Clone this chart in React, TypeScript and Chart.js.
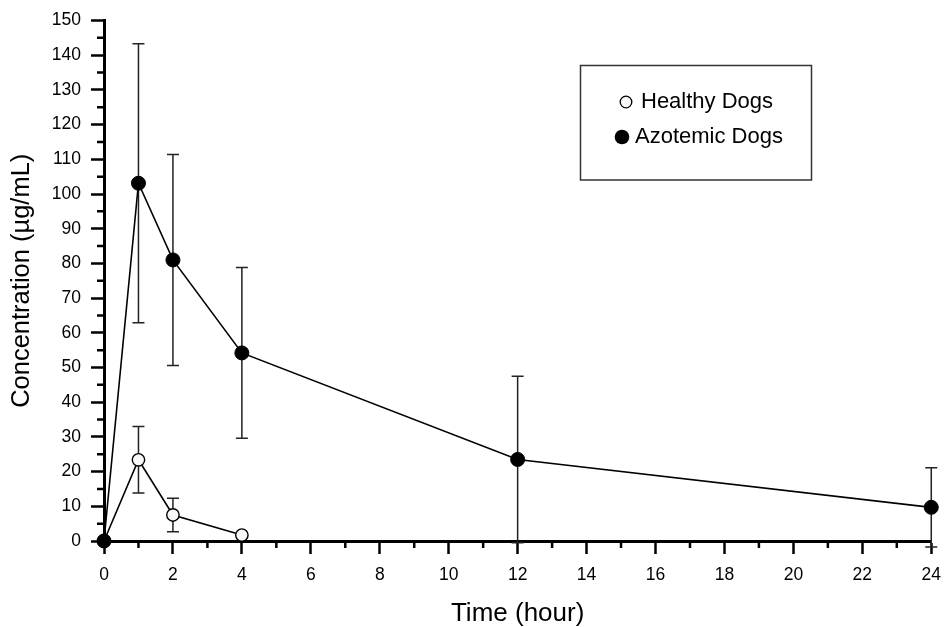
import React, { useEffect, useRef } from "react";
import { Chart, registerables } from "chart.js";

Chart.register(...registerables);

// ---- data ----
const seriesLabels = ["Healthy Dogs", "Azotemic Dogs"];
const healthyTimes = [0, 1, 2, 4];
const healthyMean = [0, 23.4, 7.5, 1.7];
const healthySD = [0, 9.6, 4.8, 0];
const azotemicTimes = [0, 1, 2, 4, 12, 24];
const azotemicMean = [0, 103.1, 81, 54.2, 23.5, 9.7];
const azotemicSD = [0, 40.2, 30.4, 24.6, 24, 11.4];
const xMinorTicks = [1, 3, 5, 7, 9, 11, 13, 15, 17, 19, 21, 23];
const yMinorTicks = [5, 15, 25, 35, 45, 55, 65, 75, 85, 95, 105, 115, 125, 135, 145];

const FONT = "'Liberation Sans', Arial, Helvetica, sans-serif";
const errorSets = [healthySD, azotemicSD];

const errorBarPlugin = {
  id: "errorBars",
  beforeDatasetsDraw(chart: any) {
    const { ctx } = chart;
    const xs = chart.scales.x;
    const ys = chart.scales.y;
    ctx.save();
    ctx.strokeStyle = "#222";
    ctx.lineWidth = 1.5;
    chart.data.datasets.forEach((ds: any, di: number) => {
      const sd = errorSets[di];
      ds.data.forEach((p: any, i: number) => {
        const s = sd[i];
        if (!s) return;
        const px = xs.getPixelForValue(p.x);
        const top = ys.getPixelForValue(p.y + s);
        const bot = ys.getPixelForValue(p.y - s);
        ctx.beginPath();
        ctx.moveTo(px, top);
        ctx.lineTo(px, bot);
        ctx.moveTo(px - 6, top);
        ctx.lineTo(px + 6, top);
        ctx.moveTo(px - 6, bot);
        ctx.lineTo(px + 6, bot);
        ctx.stroke();
      });
    });
    ctx.restore();
  },
};

const minorTickPlugin = {
  id: "minorTicks",
  afterDraw(chart: any) {
    const { ctx, chartArea } = chart;
    const xs = chart.scales.x;
    const ys = chart.scales.y;
    ctx.save();
    ctx.strokeStyle = "#000";
    ctx.lineWidth = 2.5;
    ctx.beginPath();
    xMinorTicks.forEach((v) => {
      const px = xs.getPixelForValue(v);
      ctx.moveTo(px, chartArea.bottom);
      ctx.lineTo(px, chartArea.bottom + 7);
    });
    yMinorTicks.forEach((v) => {
      const py = ys.getPixelForValue(v);
      ctx.moveTo(chartArea.left - 7, py);
      ctx.lineTo(chartArea.left, py);
    });
    ctx.stroke();
    ctx.restore();
  },
};

const legendBoxPlugin = {
  id: "legendBox",
  afterDraw(chart: any) {
    const { ctx } = chart;
    ctx.save();
    ctx.strokeStyle = "#333";
    ctx.lineWidth = 1.5;
    ctx.strokeRect(580.5, 65.5, 231, 114.5);
    ctx.font = `22px ${FONT}`;
    ctx.textBaseline = "middle";
    ctx.textAlign = "left";
    // healthy marker
    ctx.beginPath();
    ctx.arc(626, 102, 5.8, 0, Math.PI * 2);
    ctx.fillStyle = "#f8f8f8";
    ctx.fill();
    ctx.lineWidth = 1.3;
    ctx.strokeStyle = "#000";
    ctx.stroke();
    ctx.fillStyle = "#000";
    ctx.fillText(chart.data.datasets[0].label, 641, 102);
    // azotemic marker
    ctx.beginPath();
    ctx.arc(622, 137, 7.3, 0, Math.PI * 2);
    ctx.fill();
    ctx.fillText(chart.data.datasets[1].label, 635, 137);
    ctx.restore();
  },
};

export default function App() {
  const canvasRef = useRef<HTMLCanvasElement | null>(null);

  useEffect(() => {
    if (!canvasRef.current) return;
    const chart = new Chart(canvasRef.current, {
      type: "line",
      data: {
        datasets: [
          {
            label: seriesLabels[0],
            data: healthyTimes.map((t, i) => ({ x: t, y: healthyMean[i] })),
            borderColor: "#000",
            borderWidth: 1.6,
            pointRadius: 6.2,
            pointBackgroundColor: "#f8f8f8",
            pointBorderColor: "#000",
            pointBorderWidth: 1.4,
            tension: 0,
            clip: false,
            order: 1,
          },
          {
            label: seriesLabels[1],
            data: azotemicTimes.map((t, i) => ({ x: t, y: azotemicMean[i] })),
            borderColor: "#000",
            borderWidth: 1.6,
            pointRadius: 7,
            pointBackgroundColor: "#000",
            pointBorderColor: "#000",
            pointBorderWidth: 1,
            tension: 0,
            clip: false,
            order: 0,
          },
        ],
      } as any,
      options: {
        animation: false,
        responsive: false,
        devicePixelRatio: 1,
        layout: { padding: { left: 0, right: 12, top: 20, bottom: 0 } },
        plugins: {
          legend: { display: false },
          tooltip: { enabled: false },
        },
        scales: {
          x: {
            type: "linear",
            min: 0,
            max: 24,
            afterFit: (s: any) => {
              s.height = 86;
            },
            ticks: {
              stepSize: 2,
              color: "#000",
              padding: 11,
              font: { family: FONT, size: 17.5 },
              maxRotation: 0,
            },
            grid: {
              display: true,
              drawOnChartArea: false,
              drawTicks: true,
              tickLength: 13,
              tickColor: "#000",
              tickWidth: 2.5,
            },
            border: { display: true, color: "#000", width: 3 },
            title: {
              display: true,
              text: "Time (hour)",
              color: "#000",
              font: { family: FONT, size: 26, lineHeight: 1 },
              padding: { top: 0, bottom: 0 },
            },
          },
          y: {
            type: "linear",
            min: 0,
            max: 150,
            afterFit: (s: any) => {
              s.width = 104;
            },
            ticks: {
              stepSize: 10,
              color: "#000",
              padding: 10,
              font: { family: FONT, size: 17.5 },
            },
            grid: {
              display: true,
              drawOnChartArea: false,
              drawTicks: true,
              tickLength: 13,
              tickColor: "#000",
              tickWidth: 2.5,
            },
            border: { display: true, color: "#000", width: 3 },
            title: {
              display: true,
              text: "Concentration (µg/mL)",
              color: "#000",
              font: { family: FONT, size: 25.5, lineHeight: 1.2 },
              padding: { top: 7, bottom: 0 },
            },
          },
        },
      } as any,
      plugins: [errorBarPlugin, minorTickPlugin, legendBoxPlugin],
    });
    return () => chart.destroy();
  }, []);

  return (
    <div
      style={{
        position: "absolute",
        left: 0,
        top: 0,
        width: 952,
        height: 627,
        background: "#fff",
      }}
    >
      <canvas
        ref={canvasRef}
        width={952}
        height={627}
        style={{ display: "block", width: 952, height: 627 }}
      />
    </div>
  );
}
